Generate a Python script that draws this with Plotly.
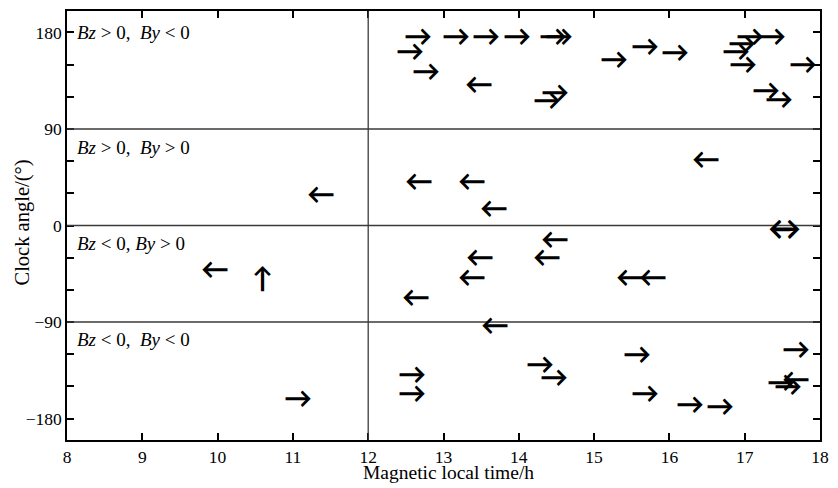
import plotly.graph_objects as go

# ---- data ----
mlt = [12.66, 13.17, 13.57, 13.97, 14.46, 14.54, 12.56, 12.77, 13.47, 14.48, 14.38,
       15.27, 15.68, 16.07, 17.07, 17.36, 16.96, 16.88, 16.98, 17.78, 17.28, 17.46,
       16.48, 12.67, 13.38, 13.67, 11.37, 17.53,
       14.48, 13.48, 14.38, 13.38, 15.48, 15.78, 12.63, 9.97, 10.6,
       13.68, 11.07, 12.58, 12.58, 14.28, 14.47, 15.57, 15.67, 16.28, 16.67, 17.68,
       17.48, 17.68, 17.57]
clock = [176, 176, 176, 176, 176, 176, 162, 143, 131, 124, 116,
         154, 166, 161, 176, 176, 169, 162, 150, 150, 125, 117,
         61, 41, 41, 15, 28, -3.5,
         -13.5, -30.5, -30.5, -49, -49, -49, -67.6, -41.3, -50,
         -94, -162, -139, -157, -130, -142, -120.5, -157, -167, -169, -116,
         -147, -144, -150.5]
direction = ['r', 'r', 'r', 'r', 'r', 'r', 'r', 'r', 'l', 'r', 'r',
             'r', 'r', 'r', 'r', 'r', 'r', 'r', 'r', 'r', 'r', 'r',
             'l', 'l', 'l', 'l', 'l', 'lr',
             'l', 'l', 'l', 'l', 'l', 'l', 'l', 'l', 'u',
             'l', 'r', 'r', 'r', 'r', 'r', 'r', 'r', 'r', 'r', 'r',
             'r', 'l', 'r']

region_labels = ['<i>Bz</i> &gt; 0, &nbsp;<i>By</i> &lt; 0',
                 '<i>Bz</i> &gt; 0, &nbsp;<i>By</i> &gt; 0',
                 '<i>Bz</i> &lt; 0, <i>By</i> &gt; 0',
                 '<i>Bz</i> &lt; 0, &nbsp;<i>By</i> &lt; 0']
region_label_y = [180, 73, -17, -106]
boundaries_y = [90, 0, -90]
boundary_x = 12

x_ticks = list(range(8, 19))
y_ticks = list(range(-180, 181, 30))
y_ticktext = [str(v).replace('-', '\u2212') if v % 90 == 0 else '' for v in y_ticks]

x_title = 'Magnetic local time/h'
y_title = 'Clock angle/(\u00b0)'

glyph = {'r': '\u2192', 'l': '\u2190', 'u': '\u2191', 'lr': '\u2194'}
glyph_size = {'r': 28, 'l': 28, 'u': 28, 'lr': 33}

FONT = 'Liberation Serif'

fig = go.Figure()
# invisible trace to register the data on the axes
fig.add_trace(go.Scatter(x=mlt, y=clock, mode='markers', marker=dict(opacity=0),
                         hoverinfo='skip', showlegend=False))

shapes = []
for yb in boundaries_y:
    shapes.append(dict(type='line', xref='paper', x0=0, x1=1, yref='y', y0=yb, y1=yb,
                       line=dict(color='#3a3a3a', width=1.3)))
shapes.append(dict(type='line', xref='x', x0=boundary_x, x1=boundary_x, yref='paper', y0=0, y1=1,
                   line=dict(color='#3a3a3a', width=1.3)))

annotations = []
for xv, yv, d in zip(mlt, clock, direction):
    annotations.append(dict(x=xv, y=yv, xref='x', yref='y', text='<b>' + glyph[d] + '</b>',
                            showarrow=False, xanchor='center', yanchor='middle', yshift=2,
                            font=dict(family='Lato', size=glyph_size[d], color='black')))
for t, yv in zip(region_labels, region_label_y):
    annotations.append(dict(x=8.1, y=yv, xref='x', yref='y', text=t, showarrow=False,
                            xanchor='left', yanchor='middle',
                            font=dict(family=FONT, size=19, color='black')))
# axis titles
annotations.append(dict(x=0.507, y=0, xref='paper', yref='paper', yshift=-32,
                        text=x_title, showarrow=False, xanchor='center', yanchor='middle',
                        font=dict(family=FONT, size=19.5, color='black')))
annotations.append(dict(x=0, y=0.507, xref='paper', yref='paper', xshift=-45,
                        text=y_title, textangle=-90, showarrow=False,
                        xanchor='center', yanchor='middle',
                        font=dict(family=FONT, size=20.5, color='black')))

fig.update_layout(
    width=838, height=488,
    margin=dict(l=67, r=11, t=9, b=48),
    paper_bgcolor='white', plot_bgcolor='white',
    font=dict(family=FONT, size=17.5, color='black'),
    shapes=shapes, annotations=annotations,
    xaxis=dict(range=[8, 18], tickvals=x_ticks, ticks='inside', ticklen=7, tickwidth=1.5,
               tickcolor='black', showline=True, linecolor='black', linewidth=1.5,
               mirror='ticks', showgrid=False, zeroline=False),
    yaxis=dict(range=[-200, 200], tickvals=y_ticks, ticktext=y_ticktext, ticks='inside',
               ticklen=7, tickwidth=1.5, tickcolor='black', showline=True,
               linecolor='black', linewidth=1.5, mirror='ticks', showgrid=False,
               zeroline=False),
)

fig.write_html('out.html')
